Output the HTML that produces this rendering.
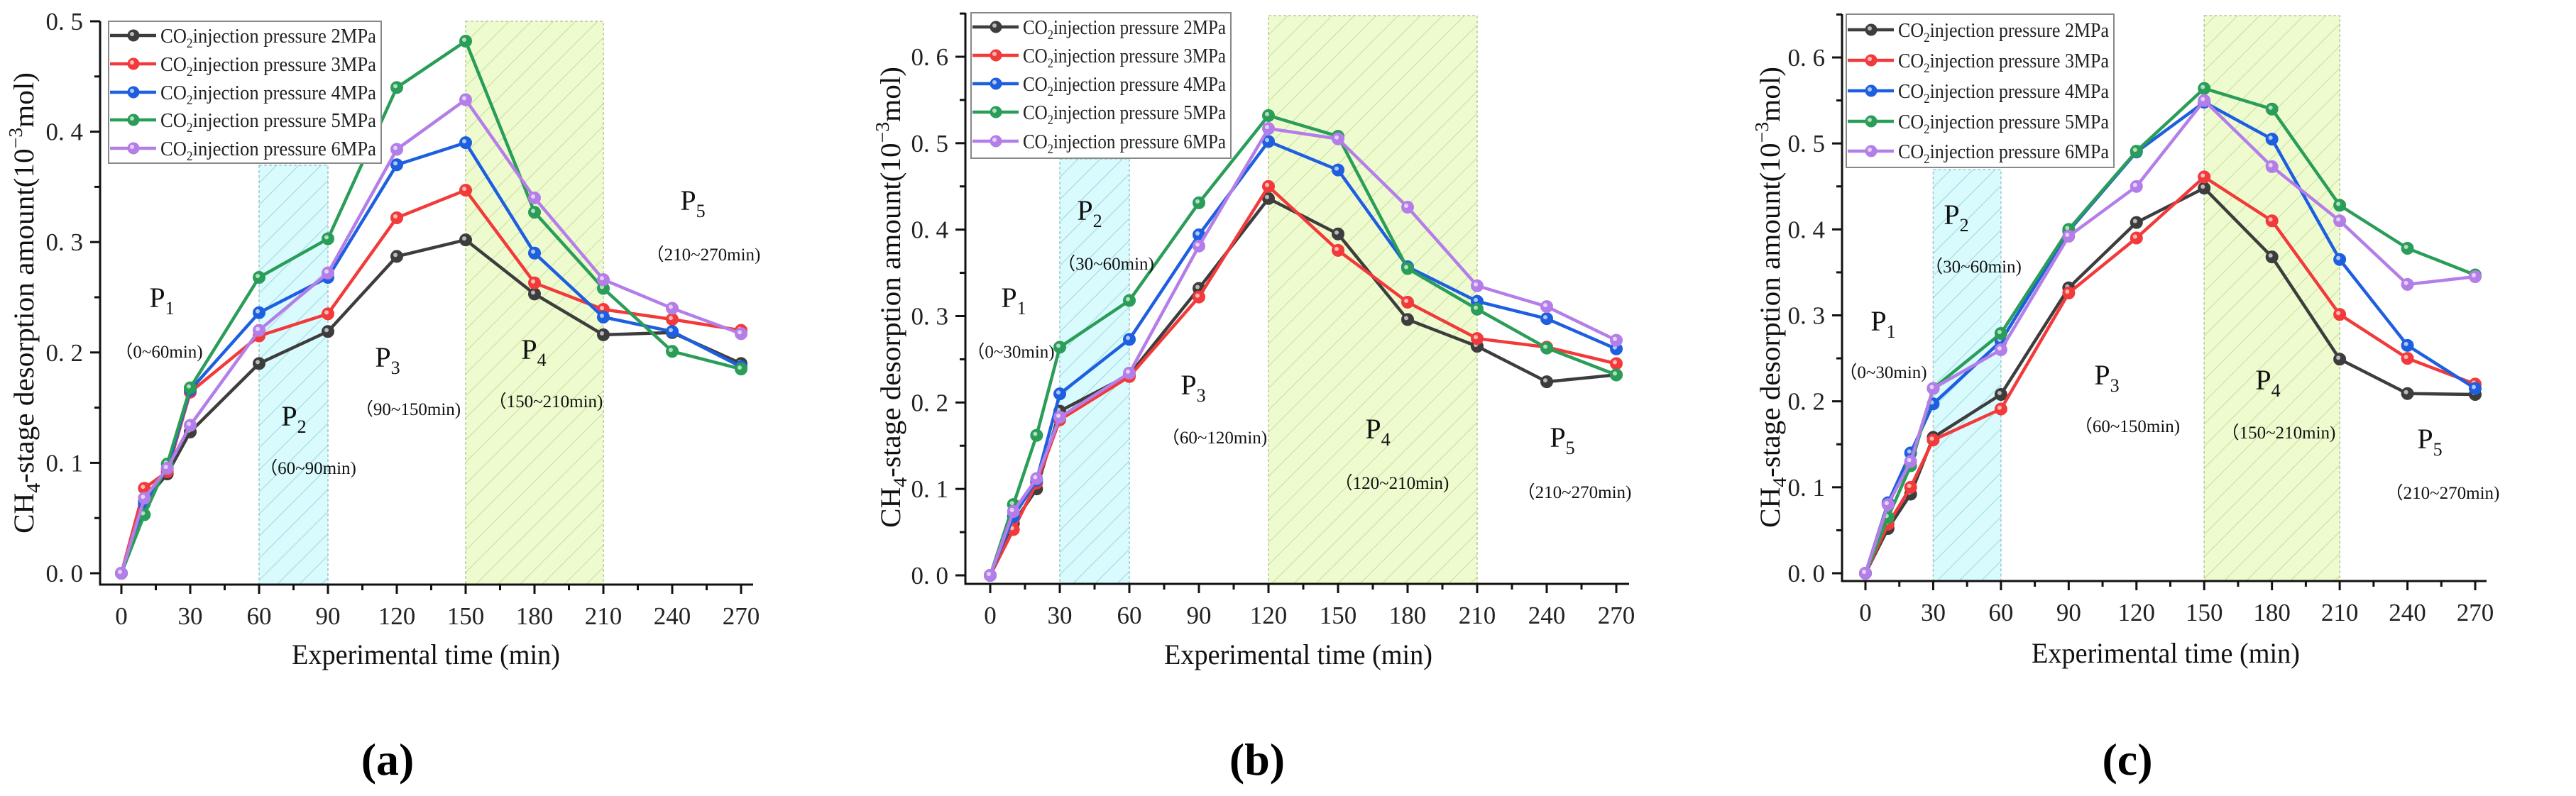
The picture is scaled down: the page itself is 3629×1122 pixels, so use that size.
<!DOCTYPE html>
<html><head><meta charset="utf-8"><style>
html,body{margin:0;padding:0;background:#fff;}
svg{display:block;font-family:"Liberation Serif",serif;}
</style></head><body>
<svg id="fig" width="3629" height="1122" viewBox="0 0 3629 1122" xmlns="http://www.w3.org/2000/svg">
<defs>
<pattern id="hatchC" patternUnits="userSpaceOnUse" width="22" height="22" patternTransform="rotate(45)"><rect width="22" height="22" fill="#d9fbfd"/><line x1="0" y1="0" x2="0" y2="22" stroke="#9fd6dc" stroke-width="2"/></pattern>
<pattern id="hatchG" patternUnits="userSpaceOnUse" width="22" height="22" patternTransform="rotate(45)"><rect width="22" height="22" fill="#eefbcf"/><line x1="0" y1="0" x2="0" y2="22" stroke="#c8dca0" stroke-width="2"/></pattern>
</defs>
</svg>
<script>
// shared categories
const xTimes = [0,10,20,30,60,90,120,150,180,210,240,270];
const seriesNames = ["2MPa","3MPa","4MPa","5MPa","6MPa"];
const seriesColors = ["#3d3d3d","#f23a3a","#1e5fe0","#2a9d58","#b47ee8"];
const xTickLabels = ["0","30","60","90","120","150","180","210","240","270"];
// panel a
const a_2MPa = [0,0.065,0.09,0.128,0.19,0.219,0.287,0.302,0.253,0.216,0.218,0.19];
const a_3MPa = [0,0.077,0.092,0.164,0.215,0.235,0.322,0.347,0.263,0.239,0.23,0.22];
const a_4MPa = [0,0.063,0.095,0.166,0.236,0.268,0.37,0.39,0.29,0.232,0.219,0.187];
const a_5MPa = [0,0.053,0.099,0.168,0.268,0.303,0.44,0.482,0.327,0.258,0.201,0.185];
const a_6MPa = [0,0.068,0.095,0.134,0.22,0.272,0.384,0.429,0.34,0.266,0.24,0.217];
const a_yTicks = ["0. 0","0. 1","0. 2","0. 3","0. 4","0. 5"];
// panel b
const b_2MPa = [0,0.06,0.1,0.19,0.232,0.332,0.436,0.395,0.296,0.265,0.224,0.232];
const b_3MPa = [0,0.053,0.107,0.18,0.23,0.322,0.45,0.376,0.316,0.274,0.264,0.245];
const b_4MPa = [0,0.068,0.11,0.21,0.273,0.394,0.502,0.469,0.357,0.317,0.297,0.262];
const b_5MPa = [0,0.082,0.162,0.264,0.318,0.431,0.532,0.508,0.355,0.308,0.263,0.232];
const b_6MPa = [0,0.074,0.112,0.183,0.234,0.381,0.517,0.505,0.426,0.335,0.311,0.272];
const b_yTicks = ["0. 0","0. 1","0. 2","0. 3","0. 4","0. 5","0. 6"];
// panel c
const c_2MPa = [0,0.052,0.092,0.158,0.208,0.332,0.408,0.448,0.368,0.249,0.209,0.208];
const c_3MPa = [0,0.057,0.1,0.155,0.191,0.326,0.39,0.461,0.41,0.301,0.25,0.22];
const c_4MPa = [0,0.082,0.14,0.197,0.27,0.398,0.49,0.548,0.505,0.365,0.265,0.215];
const c_5MPa = [0,0.065,0.125,0.215,0.279,0.4,0.491,0.564,0.54,0.428,0.378,0.347];
const c_6MPa = [0,0.08,0.13,0.215,0.26,0.392,0.45,0.55,0.473,0.41,0.336,0.345];
const c_yTicks = ["0. 0","0. 1","0. 2","0. 3","0. 4","0. 5","0. 6"];

const NS="http://www.w3.org/2000/svg";
const svg=document.getElementById('fig');
function mk(tag,attrs,parent,text){const e=document.createElementNS(NS,tag);for(const k in attrs)e.setAttribute(k,attrs[k]);if(text!==undefined)e.textContent=text;(parent||svg).appendChild(e);return e;}

const panels=[
 {id:'a',data:[a_2MPa,a_3MPa,a_4MPa,a_5MPa,a_6MPa],yTicks:a_yTicks,ymax:0.5,
  axX:141,axY:824,y0:808,yTopVal:0.5,yTopPx:30,x0:171,x270:1044,xEnd:1061,axTop:30,
  leg:[153,30,537,230],rows:[50,90,130,169,209],
  cyan:[60,90,233],green:[150,210,30],
  ann:[["P","1",228,419,"(0~60min)",224,495],["P","2",414,586,"(60~90min)",434,659],["P","3",546,503,"(90~150min)",575,576],["P","4",752,492,"(150~210min)",769,565],["P","5",976,282,"(210~270min)",991,358]],
  ylab:[33,427],xlab:[600,922],cap:[546,1070]},
 {id:'b',data:[b_2MPa,b_3MPa,b_4MPa,b_5MPa,b_6MPa],yTicks:b_yTicks,ymax:0.6,
  axX:1360,axY:823,y0:811,yTopVal:0.6,yTopPx:80,x0:1395,x270:2277,xEnd:2295,axTop:18,
  leg:[1368,18,1734,223],rows:[38,78,118,158,199],
  cyan:[30,60,224],green:[120,210,22],
  ann:[["P","1",1428,419,"(0~30min)",1424,495],["P","2",1535,296,"(30~60min)",1558,371],["P","3",1681,542,"(60~120min)",1711,616],["P","4",1941,604,"(120~210min)",1961,680],["P","5",2201,616,"(210~270min)",2218,693]],
  ylab:[1254,419],xlab:[1829,922],cap:[1771,1070]},
 {id:'c',data:[c_2MPa,c_3MPa,c_4MPa,c_5MPa,c_6MPa],yTicks:c_yTicks,ymax:0.6,
  axX:2595,axY:819,y0:808,yTopVal:0.6,yTopPx:81,x0:2628,x270:3487,xEnd:3503,axTop:20,
  leg:[2601,20,2978,236],rows:[42,85,128,171,213],
  cyan:[30,60,239],green:[150,210,22],
  ann:[["P","1",2653,452,"(0~30min)",2653,524],["P","2",2756,302,"(30~60min)",2780,375],["P","3",2968,528,"(60~150min)",2997,600],["P","4",3195,535,"(150~210min)",3210,609],["P","5",3423,618,"(210~270min)",3441,694]],
  ylab:[2493,419],xlab:[3051,920],cap:[2997,1070]}
];

panels.forEach(p=>{
  const g=mk('g',{});
  
  
  const X=v=>p.x0+(p.x270-p.x0)*v/270;
  const Y=v=>p.y0-(p.y0-p.yTopPx)*v/p.yTopVal;
  const c=mk('rect',{x:X(p.cyan[0]),y:p.cyan[2],width:X(p.cyan[1])-X(p.cyan[0]),height:p.axY-p.cyan[2],fill:'url(#hatchC)',stroke:'#99c9cc','stroke-width':1.5,'stroke-dasharray':'4 3'},g);
  
  
  const gr=mk('rect',{x:X(p.green[0]),y:p.green[2],width:X(p.green[1])-X(p.green[0]),height:p.axY-p.green[2],fill:'url(#hatchG)',stroke:'#b7c99a','stroke-width':1.5,'stroke-dasharray':'4 3'},g);
  
  
  const ax=mk('path',{d:`M${p.axX},${p.axTop} V${p.axY} H${p.xEnd}`,fill:'none',stroke:'#111','stroke-width':3},g);
  
  
  p.yTicks.forEach((lab,i)=>{
    const v=i*0.1,y=Y(v);
    mk('line',{x1:p.axX-14,y1:y,x2:p.axX,y2:y,stroke:'#111','stroke-width':3},g);
    const t=mk('text',{x:p.axX-24,y:y+12,'text-anchor':'end','font-size':35,fill:'#222'},g,lab);
    
    
    if(Y(v+0.05)>=p.axTop){const ym=Y(v+0.05);mk('line',{x1:p.axX-8,y1:ym,x2:p.axX,y2:ym,stroke:'#111','stroke-width':3},g);}
  });
  xTickLabels.forEach(lab=>{
    const v=+lab,x=X(v);
    mk('line',{x1:x,y1:p.axY,x2:x,y2:p.axY+13,stroke:'#111','stroke-width':3},g);
    if(v<270){const xm=X(v+15);mk('line',{x1:xm,y1:p.axY,x2:xm,y2:p.axY+8,stroke:'#111','stroke-width':3},g);}
    const t=mk('text',{x:x,y:p.axY+56,'text-anchor':'middle','font-size':35,fill:'#222'},g,lab);
    
    
  });
  p.data.forEach((arr,si)=>{
    const col=seriesColors[si];
    const sg=mk('g',{},g);
    
    
    mk('polyline',{points:arr.map((v,i)=>X(xTimes[i])+','+Y(v)).join(' '),fill:'none',stroke:col,'stroke-width':4.5,'stroke-linejoin':'round'},sg);
    arr.forEach((v,i)=>{
      const m=mk('circle',{cx:X(xTimes[i]),cy:Y(v),r:8.5,fill:col,stroke:col,'stroke-width':1},sg);
      
      
      mk('circle',{cx:X(xTimes[i])-2,cy:Y(v)-2,r:3,fill:'#fff','fill-opacity':0.65},sg);
    });
  });
  const [lx1,ly1,lx2,ly2]=p.leg;
  const lg=mk('g',{},g);
  
  
  mk('rect',{x:lx1,y:ly1,width:lx2-lx1,height:ly2-ly1,fill:'#fff',stroke:'#888','stroke-width':2},lg);
  const tw=(lx2-lx1)-80;
  p.rows.forEach((ry,si)=>{
    const col=seriesColors[si];
    const e=mk('g',{},lg);
    
    
    mk('line',{x1:lx1+2,y1:ry,x2:lx1+67,y2:ry,stroke:col,'stroke-width':4.5},e);
    mk('circle',{cx:lx1+35,cy:ry,r:8.5,fill:col},e);
    mk('circle',{cx:lx1+33,cy:ry-2,r:3,fill:'#fff','fill-opacity':0.65},e);
    const t=mk('text',{x:lx1+73,y:ry+10,'font-size':29,fill:'#222',textLength:tw,lengthAdjust:'spacingAndGlyphs'},e);
    mk('tspan',{},t,'CO');mk('tspan',{'font-size':19,dy:7},t,'2');mk('tspan',{dy:-7},t,'injection pressure '+seriesNames[si]);
  });
  p.ann.forEach(a=>{
    const t=mk('text',{x:a[2],y:a[3]+14,'text-anchor':'middle','font-size':40,fill:'#111'},g);
    
    
    mk('tspan',{},t,a[0]);mk('tspan',{'font-size':26,dy:10},t,a[1]);
    const r=mk('text',{x:a[5],y:a[6]+9,'text-anchor':'middle','font-size':25,fill:'#111'},g,'\uFF08'+a[4].slice(1,-1)+')');
    
    
  });
  const yl=mk('text',{x:0,y:0,transform:`translate(${p.ylab[0]+14},${p.ylab[1]}) rotate(-90)`,'text-anchor':'middle','font-size':40,fill:'#111',textLength:650,lengthAdjust:'spacingAndGlyphs'},g);
  
  
  mk('tspan',{},yl,'CH');mk('tspan',{'font-size':27,dy:9},yl,'4');mk('tspan',{dy:-9},yl,'-stage desorption amount(10');mk('tspan',{'font-size':27,dy:-16},yl,'\u22123');mk('tspan',{dy:16},yl,'mol)');
  const xl=mk('text',{x:p.xlab[0],y:p.xlab[1]+14,'text-anchor':'middle','font-size':40,fill:'#111',textLength:378,lengthAdjust:'spacingAndGlyphs'},g,'Experimental time (min)');
  
  
  const cp=mk('text',{x:p.cap[0],y:p.cap[1]+22,'text-anchor':'middle','font-size':64,'font-weight':'bold',fill:'#000'},g,'('+p.id+')');
  
  
});
</script>
</body></html>
